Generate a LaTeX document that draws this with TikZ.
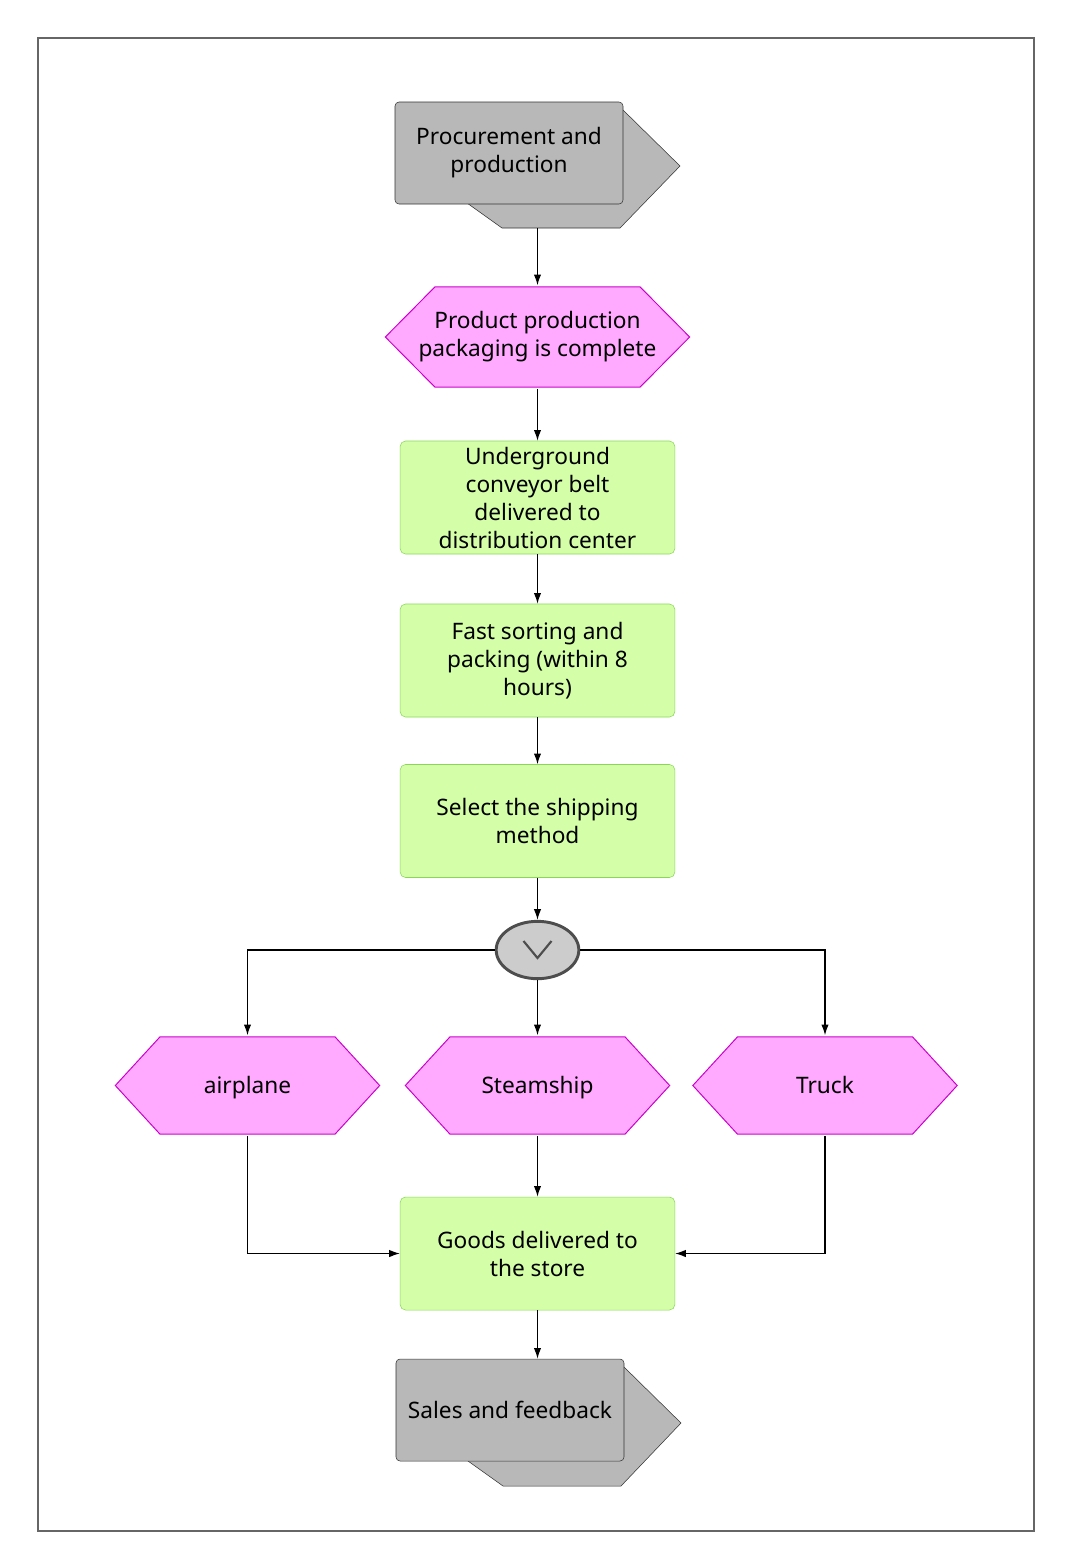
\documentclass[tikz,border=0pt]{standalone}
\usepackage{fontspec}
\setmainfont{Noto Sans}
\usetikzlibrary{arrows.meta,shapes.geometric}

\definecolor{hexfill}{HTML}{FFAAFF}
\definecolor{hexline}{HTML}{CC00CC}
\definecolor{boxfill}{HTML}{D4FFA8}
\definecolor{boxline}{HTML}{88D855}
\definecolor{ifill}{HTML}{B8B8B8}
\definecolor{iline}{HTML}{333333}
\definecolor{xorfill}{HTML}{CCCCCC}
\definecolor{xorline}{HTML}{4D4D4D}
\definecolor{framecol}{HTML}{666666}

\begin{document}
\begin{tikzpicture}[x=0.75pt,y=-0.75pt,>={Latex[length=8pt,width=5.5pt]},
  font=\fontsize{17}{21}\selectfont,
  event/.style n args={3}{minimum width=#1,minimum height=#2,
    inner sep=0pt,align=center,
    path picture={\draw[hexline,fill=hexfill,line width=0.75pt]
      ([xshift=1pt]path picture bounding box.west)
      --([xshift=#3,yshift=-1pt]path picture bounding box.north west)
      --([xshift=-#3,yshift=-1pt]path picture bounding box.north east)
      --([xshift=-1pt]path picture bounding box.east)
      --([xshift=-#3,yshift=1pt]path picture bounding box.south east)
      --([xshift=#3,yshift=1pt]path picture bounding box.south west)--cycle;}},
  way/.style={event={200.25pt}{75pt}{34.5pt},text height=14.5pt,text depth=2pt},
  task/.style={draw=boxline,fill=boxfill,rounded corners=4pt,
    minimum width=206pt,minimum height=84.75pt,inner sep=0pt,align=center},
  iface/.style={draw=iline,fill=ifill,rounded corners=3pt,
    minimum width=171pt,minimum height=76.5pt,inner sep=0pt,align=center},
  iback/.style={draw=iline,fill=ifill},
  flow/.style={->,line width=0.9pt}]

\useasboundingbox (0,0) rectangle (1071,1568);

% Frame
\draw[framecol,line width=1.5pt] (38,38) rectangle (1034,1531);

%------------------------------------------------
% Top: process interface
%------------------------------------------------
\draw[iback] (467,203)--(502,228)--(620,228)--(680,166)--(623,110)--(467,110)--cycle;
\node[iface] (pp) at (509,153) {Procurement and\\production};
\coordinate (ppout) at (537.5,228);

%------------------------------------------------
% Main column
%------------------------------------------------
\node[event={230.25pt}{77.25pt}{38.25pt}] (ppc) at (537.5,337) {Product production\\packaging is complete};

\node[task] (conv) at (537.5,497.5) {Underground\\conveyor belt\\delivered to\\distribution center};

\node[task] (sort) at (537.5,660.5) {Fast sorting and\\packing (within 8\\hours)};

\node[task] (select) at (537.5,821) {Select the shipping\\method};

% XOR connector
\node[ellipse,draw=xorline,fill=xorfill,line width=2.2pt,
  minimum width=62pt,minimum height=43pt,inner sep=0pt] (xor) at (537.5,950) {};
\draw[xorline,line width=1.6pt] ([shift={(-14,-9)}]xor.center)--([shift={(0,8)}]xor.center)--([shift={(14,-9)}]xor.center);

%------------------------------------------------
% Shipping methods
%------------------------------------------------
\node[way] (air) at (247.5,1085.5) {airplane};
\node[way] (ship) at (537.5,1085.5) {Steamship};
\node[way] (truck) at (825,1085.5) {Truck};

\node[task] (store) at (537.5,1253.5) {Goods delivered to\\the store};

%------------------------------------------------
% Bottom: process interface
%------------------------------------------------
\draw[iback] (468,1461)--(503,1486)--(621,1486)--(681,1423)--(624,1367)--(468,1367)--cycle;
\node[iface] (sales) at (510,1410) {Sales and feedback};

%------------------------------------------------
% Connectors
%------------------------------------------------
\draw[flow] (ppout)--(ppc);
\draw[flow] (ppc)--(conv);
\draw[flow] (conv)--(sort);
\draw[flow] (sort)--(select);
\draw[flow] (select)--(xor);

\draw[flow] (xor)-|(air);
\draw[flow] (xor)--(ship);
\draw[flow] (xor)-|(truck);

\draw[flow] (air)|-(store);
\draw[flow] (ship)--(store);
\draw[flow] (truck)|-(store);

\draw[flow] (store.south)--(store.south |- sales.north);

\end{tikzpicture}
\end{document}
